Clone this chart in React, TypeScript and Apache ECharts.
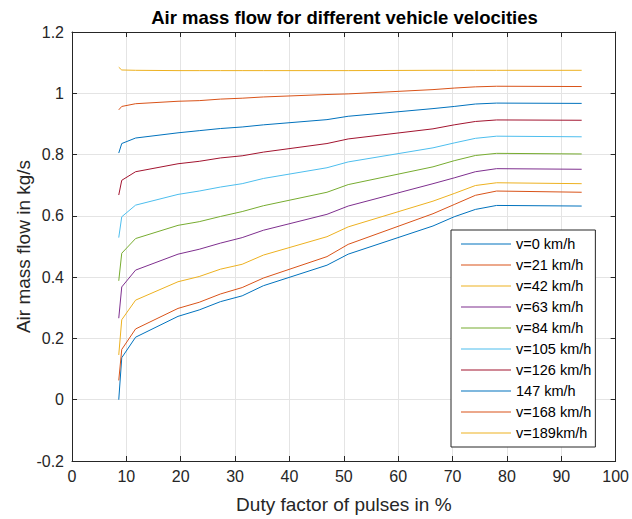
import React, { useEffect, useRef } from "react";
import * as echarts from "echarts";

// Duty factor (%) at which the measurements were taken
const dutyFactor = [8.6, 9.15, 11.7, 19.5, 23.4, 27.3, 31.3, 35.2, 46.9, 50.8, 66.4, 70.3, 74.2, 78.1, 93.75];

// Air mass flow (kg/s) per vehicle velocity
const flowV0 = [0.0, 0.137, 0.204, 0.272, 0.293, 0.32, 0.339, 0.372, 0.439, 0.475, 0.567, 0.597, 0.621, 0.634, 0.632];
const flowV21 = [0.063, 0.164, 0.231, 0.298, 0.318, 0.345, 0.366, 0.397, 0.467, 0.507, 0.607, 0.637, 0.667, 0.681, 0.677];
const flowV42 = [0.146, 0.261, 0.325, 0.385, 0.402, 0.426, 0.442, 0.472, 0.532, 0.564, 0.648, 0.673, 0.699, 0.708, 0.705];
const flowV63 = [0.266, 0.368, 0.423, 0.475, 0.491, 0.511, 0.529, 0.553, 0.605, 0.632, 0.705, 0.724, 0.744, 0.754, 0.752];
const flowV84 = [0.388, 0.478, 0.526, 0.569, 0.581, 0.598, 0.614, 0.633, 0.677, 0.702, 0.76, 0.78, 0.797, 0.804, 0.802];
const flowV105 = [0.529, 0.597, 0.635, 0.67, 0.681, 0.694, 0.705, 0.722, 0.757, 0.776, 0.822, 0.838, 0.853, 0.86, 0.858];
const flowV126 = [0.668, 0.716, 0.744, 0.77, 0.778, 0.789, 0.796, 0.808, 0.836, 0.851, 0.884, 0.897, 0.908, 0.913, 0.912];
const flowV147 = [0.805, 0.836, 0.854, 0.871, 0.878, 0.885, 0.89, 0.897, 0.914, 0.925, 0.95, 0.957, 0.965, 0.968, 0.967];
const flowV168 = [0.946, 0.957, 0.966, 0.974, 0.976, 0.981, 0.984, 0.988, 0.996, 0.998, 1.012, 1.017, 1.021, 1.023, 1.022];
const flowV189 = [1.085, 1.076, 1.075, 1.074, 1.074, 1.074, 1.074, 1.074, 1.074, 1.074, 1.075, 1.075, 1.075, 1.075, 1.075];

const seriesNames = [
  "v=0 km/h",
  "v=21 km/h",
  "v=42 km/h",
  "v=63 km/h",
  "v=84 km/h",
  "v=105 km/h",
  "v=126 km/h",
  "147 km/h",
  "v=168 km/h",
  "v=189km/h",
];
const seriesValues = [flowV0, flowV21, flowV42, flowV63, flowV84, flowV105, flowV126, flowV147, flowV168, flowV189];
const lineColors = [
  "#0072BD",
  "#D95319",
  "#EDB120",
  "#7E2F8E",
  "#77AC30",
  "#4DBEEE",
  "#A2142F",
  "#0072BD",
  "#D95319",
  "#EDB120",
];

const FONT = "'Liberation Sans', Arial, Helvetica, sans-serif";
const AXIS_COLOR = "#262626";
const GRID_COLOR = "#e4e4e4";

export default function App() {
  const ref = useRef<HTMLDivElement>(null);

  useEffect(() => {
    if (!ref.current) return;
    const chart = echarts.init(ref.current, null, { renderer: "svg" });

    const boxAxisCommon = {
      axisLine: { show: true, onZero: false, lineStyle: { color: AXIS_COLOR, width: 1 } },
      axisTick: { show: true, inside: true, length: 5, lineStyle: { color: AXIS_COLOR } },
    };

    chart.setOption({
      animation: false,
      textStyle: { fontFamily: FONT },
      grid: { left: 72, right: 15, top: 32, bottom: 57, containLabel: false },
      graphic: [
        {
          type: "text",
          x: 344.5,
          y: 17,
          style: {
            text: "Air mass flow for different vehicle velocities",
            fontFamily: FONT,
            fontSize: 18.5,
            fontWeight: "bold",
            fill: "#000",
            textAlign: "center",
            textVerticalAlign: "middle",
          },
        },
      ],
      xAxis: [
        {
          type: "value",
          min: 0,
          max: 100,
          interval: 10,
          position: "bottom",
          name: "Duty factor of pulses in %",
          nameLocation: "middle",
          nameGap: 34,
          nameTextStyle: { fontSize: 19, color: "#262626", fontFamily: FONT },
          axisLabel: { fontSize: 16, color: "#262626", margin: 7, fontFamily: FONT },
          splitLine: { show: true, lineStyle: { color: GRID_COLOR, width: 1 } },
          ...boxAxisCommon,
        },
        {
          type: "value",
          min: 0,
          max: 100,
          interval: 10,
          position: "top",
          axisLabel: { show: false },
          splitLine: { show: false },
          ...boxAxisCommon,
        },
      ],
      yAxis: [
        {
          type: "value",
          min: -0.2,
          max: 1.2,
          interval: 0.2,
          position: "left",
          name: "Air mass flow in kg/s",
          nameLocation: "middle",
          nameGap: 39,
          nameMoveOverlap: false,
          nameTextStyle: { fontSize: 19, color: "#262626", fontFamily: FONT },
          axisLabel: {
            fontSize: 16,
            color: "#262626",
            margin: 8,
            fontFamily: FONT,
            formatter: (v: number) => String(Math.round(v * 10) / 10),
          },
          splitLine: { show: true, lineStyle: { color: GRID_COLOR, width: 1 } },
          ...boxAxisCommon,
        },
        {
          type: "value",
          min: -0.2,
          max: 1.2,
          interval: 0.2,
          position: "right",
          axisLabel: { show: false },
          splitLine: { show: false },
          ...boxAxisCommon,
        },
      ],
      legend: {
        orient: "vertical",
        left: 451,
        top: 230,
        icon: "rect",
        itemWidth: 50,
        itemHeight: 1.2,
        itemGap: 5,
        padding: [6, 4, 6, 10],
        backgroundColor: "#fff",
        borderColor: "#262626",
        borderWidth: 1,
        textStyle: { fontSize: 14.5, color: "#000", lineHeight: 16, fontFamily: FONT },
        data: seriesNames,
      },
      series: seriesNames.map((name, i) => ({
        name,
        type: "line",
        xAxisIndex: 0,
        yAxisIndex: 0,
        symbol: "none",
        color: lineColors[i],
        lineStyle: { width: 1, color: lineColors[i] },
        data: dutyFactor.map((x, k) => [x, seriesValues[i][k]]),
      })),
    });

    return () => chart.dispose();
  }, []);

  return (
    <div
      ref={ref}
      style={{ position: "fixed", left: 0, top: 0, width: 632, height: 519, background: "#fff" }}
    />
  );
}
